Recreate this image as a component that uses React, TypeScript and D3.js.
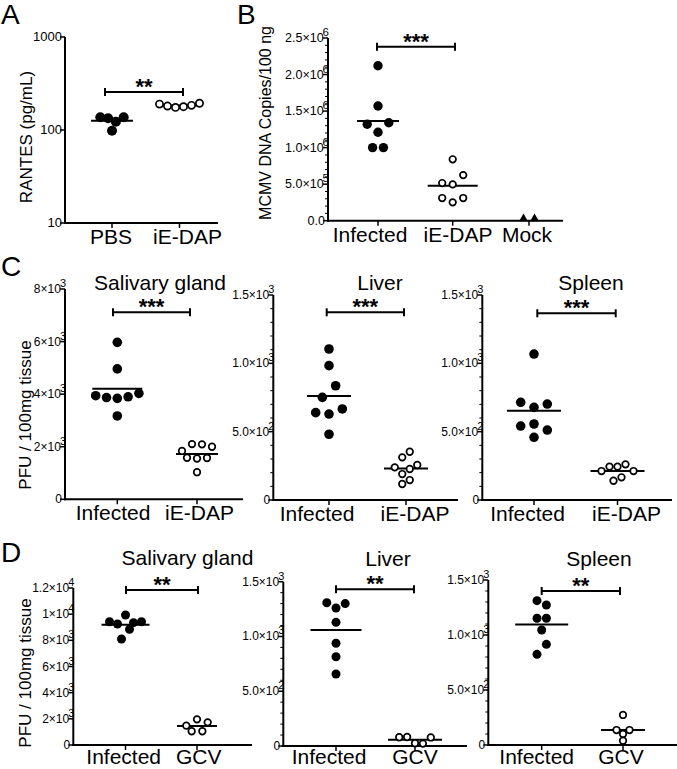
import React from "react";
import * as d3 from "d3";

const FONT = "'Liberation Sans', Arial, Helvetica, sans-serif";

// ---------- Panel A ----------
const A_CATS = ["PBS", "iE-DAP"];
const A_PBS = [137, 134, 123, 137, 98];
const A_IEDAP = [190, 181, 175, 178, 184, 194];
const A_TICKS = [10, 100, 1000];
const A_TICK_LABELS = ["10", "100", "1000"];
const A_SIG = "**";
const A_YLABEL = "RANTES (pg/mL)";

// ---------- Panel B ----------
const B_CATS = ["Infected", "iE-DAP", "Mock"];
const B_INF = [2.12e6, 1.57e6, 1.32e6, 1.21e6, 1.34e6, 1.0e6, 1.0e6];
const B_IEDAP = [0.84e6, 0.515e6, 0.497e6, 0.624e6, 0.31e6, 0.251e6, 0.31e6];
const B_MOCK = [0, 0];
const B_TICKS = [0, 5e5, 1e6, 1.5e6, 2e6, 2.5e6];
const B_TICK_LABELS = ["0.0", "5.0×10^5", "1.0×10^6", "1.5×10^6", "2.0×10^6", "2.5×10^6"];
const B_SIG = "***";
const B_YLABEL = "MCMV DNA Copies/100 ng";

// ---------- Panel C ----------
const C_CATS = ["Infected", "iE-DAP"];
const C_TITLES = ["Salivary gland", "Liver", "Spleen"];
const C_SAL_INF = [5970, 4960, 3940, 3870, 3840, 3900, 4030, 3170];
const C_SAL_IEDAP = [1840, 2100, 2090, 2000, 1580, 1550, 1570, 1030];
const C_LIV_INF = [1105, 983, 751, 836, 639, 629, 666, 481];
const C_LIV_IEDAP = [312, 353, 239, 190, 227, 256, 117, 146];
const C_SPL_INF = [1068, 715, 678, 702, 541, 556, 512, 459];
const C_SPL_IEDAP = [212, 244, 244, 261, 212, 141, 166];
const C_SAL_TICKS = [0, 2000, 4000, 6000, 8000];
const C_SAL_TICK_LABELS = ["0", "2×10^3", "4×10^3", "6×10^3", "8×10^3"];
const C_SIG = ["***", "***", "***"];

// ---------- Panel D ----------
const D_CATS = ["Infected", "GCV"];
const D_TITLES = ["Salivary gland", "Liver", "Spleen"];
const D_SAL_INF = [9420, 9250, 9940, 9350, 9420, 8100, 8840];
const D_SAL_GCV = [1480, 1960, 1730, 1050, 1050];
const D_LIV_INF = [1308, 1260, 1300, 1129, 938, 815, 657];
const D_LIV_GCV = [80, 82, 25, 22, 78];
const D_SPL_INF = [1312, 1273, 1152, 1152, 1045, 824, 915];
const D_SPL_GCV = [273, 136, 100, 136, 39];
const D_SAL_TICKS = [0, 2000, 4000, 6000, 8000, 10000, 12000];
const D_SAL_TICK_LABELS = ["0", "2×10^3", "4×10^3", "6×10^3", "8×10^3", "1×10^4", "1.2×10^4"];
const D_SIG = ["**", "**", "**"];

// shared PFU axis
const PFU_TICKS = [0, 500, 1000, 1500];
const PFU_TICK_LABELS = ["0", "5.0×10^2", "1.0×10^3", "1.5×10^3"];
const PFU_YLABEL = "PFU / 100mg tissue";

type Kind = "filled" | "open" | "tri";
interface GroupSpec {
  label: string;
  values: number[];
  kind: Kind;
  center: number;
  labelX: number;
  spacing: number;
  meanHalf: number;
  r: number;
}
interface PanelSpec {
  id: string;
  scale: "log" | "linear";
  domain: [number, number];
  axisX: number;
  xEnd: number;
  yTop: number;
  yBot: number;
  ticks: number[];
  tickLabels: string[];
  minor: number;
  tickFont: number;
  groups: GroupSpec[];
  T: number;
  labelDy: number;
  sig: string;
  bracket: [number, number, number];
  title?: string;
  titleX?: number;
  titleY?: number;
  yLabel: string;
  yLabelX: number;
  yLabelY: number;
  yLabelSize: number;
}

function layoutRows(values: number[], y: (v: number) => number, T: number, S: number) {
  const items = values.map((v, i) => ({ i, v, y: y(v), dx: 0 }));
  const sorted = [...items].sort((a, b) => a.y - b.y || a.i - b.i);
  const clusters: { start: number; items: typeof items }[] = [];
  let cur: { start: number; items: typeof items } | null = null;
  for (const it of sorted) {
    if (!cur || it.y - cur.start > T) {
      cur = { start: it.y, items: [] };
      clusters.push(cur);
    }
    cur.items.push(it);
  }
  for (const c of clusters) {
    const ord = [...c.items].sort((a, b) => a.i - b.i);
    const n = ord.length;
    ord.forEach((it, k) => {
      it.dx = (k - (n - 1) / 2) * S;
    });
  }
  return items;
}

function TickLabel({ x, y, label, size }: { x: number; y: number; label: string; size: number }) {
  const [base, exp] = label.split("^");
  if (!exp) {
    return (
      <text x={x - 3} y={y + 4} textAnchor="end" fontSize={size}>
        {base}
      </text>
    );
  }
  return (
    <text x={x + 1} y={y + 4} textAnchor="end" fontSize={size}>
      {base}
      <tspan dx={-1} dy={-6} fontSize={size - 1}>
        {exp}
      </tspan>
    </text>
  );
}

function Panel({ p }: { p: PanelSpec }) {
  const y =
    p.scale === "log"
      ? d3.scaleLog().domain(p.domain).range([p.yBot, p.yTop])
      : d3.scaleLinear().domain(p.domain).range([p.yBot, p.yTop]);
  const minorTicks: number[] = [];
  if (p.minor > 0) {
    for (let i = 0; i < p.ticks.length - 1; i++) {
      const a = p.ticks[i];
      const b = p.ticks[i + 1];
      for (let k = 1; k < p.minor; k++) minorTicks.push(a + ((b - a) * k) / p.minor);
    }
  }
  const [bx1, bx2, by] = p.bracket;
  const tri = d3.symbol(d3.symbolTriangle, 34)() || "";
  return (
    <g>
      <line x1={p.axisX} x2={p.axisX} y1={p.yTop} y2={p.yBot + 1} stroke="#000" strokeWidth={2} />
      <line x1={p.axisX - 1} x2={p.xEnd} y1={p.yBot} y2={p.yBot} stroke="#000" strokeWidth={2} />
      {p.ticks.map((t, i) => (
        <g key={"t" + i}>
          <line x1={p.axisX - 5} x2={p.axisX} y1={y(t)} y2={y(t)} stroke="#000" strokeWidth={1.5} />
          <TickLabel x={p.axisX} y={y(t)} label={p.tickLabels[i]} size={p.tickFont} />
        </g>
      ))}
      {minorTicks.map((t, i) => (
        <line key={"m" + i} x1={p.axisX - 3} x2={p.axisX} y1={y(t)} y2={y(t)} stroke="#000" strokeWidth={1} />
      ))}
      {p.groups.map((g, gi) => (
        <g key={"x" + gi}>
          <line x1={g.center} x2={g.center} y1={p.yBot} y2={p.yBot + 5} stroke="#000" strokeWidth={1.5} />
          <text x={g.labelX} y={p.yBot + p.labelDy} textAnchor="middle" fontSize={21}>
            {g.label}
          </text>
        </g>
      ))}
      {p.groups.map((g, gi) =>
        g.meanHalf > 0 ? (
          <line
            key={"mean" + gi}
            x1={g.center - g.meanHalf}
            x2={g.center + g.meanHalf}
            y1={y(d3.mean(g.values) as number)}
            y2={y(d3.mean(g.values) as number)}
            stroke="#000"
            strokeWidth={2}
          />
        ) : null
      )}
      {p.groups.map((g, gi) => {
        const pts = layoutRows(g.values, (v) => y(v), p.T, g.spacing);
        return (
          <g key={"pts" + gi}>
            {pts.map((pt, k) =>
              g.kind === "tri" ? (
                <path key={k} d={tri} transform={`translate(${g.center + pt.dx},${pt.y - 2})`} fill="#000" />
              ) : g.kind === "filled" ? (
                <circle key={k} cx={g.center + pt.dx} cy={pt.y} r={g.r} fill="#000" />
              ) : (
                <circle
                  key={k}
                  cx={g.center + pt.dx}
                  cy={pt.y}
                  r={g.r}
                  fill="#fff"
                  stroke="#000"
                  strokeWidth={1.7}
                />
              )
            )}
          </g>
        );
      })}
      <line x1={bx1} x2={bx2} y1={by} y2={by} stroke="#000" strokeWidth={2} />
      <line x1={bx1} x2={bx1} y1={by - 4} y2={by + 4} stroke="#000" strokeWidth={2} />
      <line x1={bx2} x2={bx2} y1={by - 4} y2={by + 4} stroke="#000" strokeWidth={2} />
      <text x={(bx1 + bx2) / 2} y={by + 2} textAnchor="middle" fontSize={22} fontWeight="bold">
        {p.sig}
      </text>
      {p.title ? (
        <text x={p.titleX} y={p.titleY} textAnchor="middle" fontSize={21}>
          {p.title}
        </text>
      ) : null}
      {p.yLabel ? (
        <text
          transform={`translate(${p.yLabelX},${p.yLabelY}) rotate(-90)`}
          textAnchor="middle"
          fontSize={p.yLabelSize}
        >
          {p.yLabel}
        </text>
      ) : null}
    </g>
  );
}

const panels: PanelSpec[] = [
  {
    id: "A",
    scale: "log",
    domain: [10, 1000],
    axisX: 65,
    xEnd: 218,
    yTop: 37,
    yBot: 223,
    ticks: A_TICKS,
    tickLabels: A_TICK_LABELS,
    minor: 0,
    tickFont: 13,
    T: 12,
    labelDy: 21,
    groups: [
      { label: A_CATS[0], values: A_PBS, kind: "filled", center: 112, labelX: 111, spacing: 7.8, meanHalf: 21, r: 5 },
      { label: A_CATS[1], values: A_IEDAP, kind: "open", center: 179.5, labelX: 187.5, spacing: 8, meanHalf: 21, r: 3.6 },
    ],
    sig: A_SIG,
    bracket: [105, 183, 92],
    yLabel: A_YLABEL,
    yLabelX: 32,
    yLabelY: 137,
    yLabelSize: 17,
  },
  {
    id: "B",
    scale: "linear",
    domain: [0, 2.5e6],
    axisX: 328,
    xEnd: 563,
    yTop: 38,
    yBot: 220.7,
    ticks: B_TICKS,
    tickLabels: B_TICK_LABELS,
    minor: 5,
    tickFont: 12.5,
    T: 12,
    labelDy: 21,
    groups: [
      { label: B_CATS[0], values: B_INF, kind: "filled", center: 378, labelX: 370, spacing: 10.8, meanHalf: 21, r: 4.7 },
      { label: B_CATS[1], values: B_IEDAP, kind: "open", center: 452.7, labelX: 458, spacing: 10.5, meanHalf: 25, r: 3.3 },
      { label: B_CATS[2], values: B_MOCK, kind: "tri", center: 529, labelX: 527, spacing: 11, meanHalf: 0, r: 3 },
    ],
    sig: B_SIG,
    bracket: [377, 455, 46.7],
    yLabel: B_YLABEL,
    yLabelX: 270.5,
    yLabelY: 123,
    yLabelSize: 16,
  },
  {
    id: "Csal",
    scale: "linear",
    domain: [0, 8000],
    axisX: 65,
    xEnd: 243,
    yTop: 289,
    yBot: 499.3,
    ticks: C_SAL_TICKS,
    tickLabels: C_SAL_TICK_LABELS,
    minor: 0,
    tickFont: 12,
    T: 12,
    labelDy: 21,
    groups: [
      { label: C_CATS[0], values: C_SAL_INF, kind: "filled", center: 117.3, labelX: 113, spacing: 10.8, meanHalf: 25, r: 4.8 },
      { label: C_CATS[1], values: C_SAL_IEDAP, kind: "open", center: 197, labelX: 199.5, spacing: 10, meanHalf: 21, r: 3.3 },
    ],
    sig: C_SIG[0],
    bracket: [113, 190, 312.3],
    title: C_TITLES[0],
    titleX: 160,
    titleY: 290,
    yLabel: PFU_YLABEL,
    yLabelX: 30.5,
    yLabelY: 415,
    yLabelSize: 17,
  },
  {
    id: "Cliv",
    scale: "linear",
    domain: [0, 1500],
    axisX: 273.3,
    xEnd: 458,
    yTop: 295,
    yBot: 500,
    ticks: PFU_TICKS,
    tickLabels: PFU_TICK_LABELS,
    minor: 5,
    tickFont: 12,
    T: 12,
    labelDy: 21,
    groups: [
      { label: C_CATS[0], values: C_LIV_INF, kind: "filled", center: 329, labelX: 317, spacing: 13.3, meanHalf: 22, r: 4.8 },
      { label: C_CATS[1], values: C_LIV_IEDAP, kind: "open", center: 406, labelX: 415, spacing: 7.5, meanHalf: 22, r: 3.3 },
    ],
    sig: C_SIG[1],
    bracket: [326.7, 404, 312.3],
    title: C_TITLES[1],
    titleX: 380,
    titleY: 290,
    yLabel: "",
    yLabelX: 0,
    yLabelY: 0,
    yLabelSize: 17,
  },
  {
    id: "Cspl",
    scale: "linear",
    domain: [0, 1500],
    axisX: 482.3,
    xEnd: 672,
    yTop: 295,
    yBot: 500,
    ticks: PFU_TICKS,
    tickLabels: PFU_TICK_LABELS,
    minor: 5,
    tickFont: 12,
    T: 12,
    labelDy: 21,
    groups: [
      { label: C_CATS[0], values: C_SPL_INF, kind: "filled", center: 534, labelX: 527.5, spacing: 13.3, meanHalf: 27, r: 4.8 },
      { label: C_CATS[1], values: C_SPL_IEDAP, kind: "open", center: 617.5, labelX: 626.5, spacing: 8, meanHalf: 27, r: 3.3 },
    ],
    sig: C_SIG[2],
    bracket: [537.3, 615.7, 313.3],
    title: C_TITLES[2],
    titleX: 591,
    titleY: 290,
    yLabel: "",
    yLabelX: 0,
    yLabelY: 0,
    yLabelSize: 17,
  },
  {
    id: "Dsal",
    scale: "linear",
    domain: [0, 12000],
    axisX: 73.3,
    xEnd: 252,
    yTop: 588,
    yBot: 745,
    ticks: D_SAL_TICKS,
    tickLabels: D_SAL_TICK_LABELS,
    minor: 0,
    tickFont: 12,
    T: 11,
    labelDy: 19,
    groups: [
      { label: D_CATS[0], values: D_SAL_INF, kind: "filled", center: 125.5, labelX: 123.7, spacing: 8, meanHalf: 24, r: 4.5 },
      { label: D_CATS[1], values: D_SAL_GCV, kind: "open", center: 197, labelX: 198.7, spacing: 10.7, meanHalf: 20, r: 3.3 },
    ],
    sig: D_SIG[0],
    bracket: [126, 198, 590],
    title: D_TITLES[0],
    titleX: 187.5,
    titleY: 565,
    yLabel: PFU_YLABEL,
    yLabelX: 30.5,
    yLabelY: 673,
    yLabelSize: 17,
  },
  {
    id: "Dliv",
    scale: "linear",
    domain: [0, 1500],
    axisX: 283.3,
    xEnd: 467,
    yTop: 581.7,
    yBot: 746,
    ticks: PFU_TICKS,
    tickLabels: PFU_TICK_LABELS,
    minor: 5,
    tickFont: 12,
    T: 12,
    labelDy: 18,
    groups: [
      { label: D_CATS[0], values: D_LIV_INF, kind: "filled", center: 336, labelX: 329, spacing: 9.2, meanHalf: 25.5, r: 4.5 },
      { label: D_CATS[1], values: D_LIV_GCV, kind: "open", center: 415, labelX: 415, spacing: 7.9, meanHalf: 27, r: 3.3 },
    ],
    sig: D_SIG[1],
    bracket: [336, 414, 589.3],
    title: D_TITLES[1],
    titleX: 388,
    titleY: 566,
    yLabel: "",
    yLabelX: 0,
    yLabelY: 0,
    yLabelSize: 17,
  },
  {
    id: "Dspl",
    scale: "linear",
    domain: [0, 1500],
    axisX: 488.3,
    xEnd: 677,
    yTop: 580,
    yBot: 745,
    ticks: PFU_TICKS,
    tickLabels: PFU_TICK_LABELS,
    minor: 5,
    tickFont: 12,
    T: 10.5,
    labelDy: 19,
    groups: [
      { label: D_CATS[0], values: D_SPL_INF, kind: "filled", center: 541.7, labelX: 536.7, spacing: 9.4, meanHalf: 26.5, r: 4.5 },
      { label: D_CATS[1], values: D_SPL_GCV, kind: "open", center: 623, labelX: 621, spacing: 6.5, meanHalf: 22, r: 3.3 },
    ],
    sig: D_SIG[2],
    bracket: [541.7, 620, 591],
    title: D_TITLES[2],
    titleX: 599,
    titleY: 566,
    yLabel: "",
    yLabelX: 0,
    yLabelY: 0,
    yLabelSize: 17,
  },
];

const LETTERS = [
  { t: "A", x: 1, y: 24 },
  { t: "B", x: 237, y: 24 },
  { t: "C", x: 1, y: 276 },
  { t: "D", x: 1, y: 562 },
];

export default function App() {
  return (
    <svg
      width={677}
      height={769}
      style={{ position: "absolute", left: 0, top: 0, background: "#fff" }}
      fontFamily={FONT}
    >
      <rect x={0} y={0} width={677} height={769} fill="#fff" />
      {panels.map((p) => (
        <Panel key={p.id} p={p} />
      ))}
      {LETTERS.map((l) => (
        <text key={l.t} x={l.x} y={l.y} fontSize={28}>
          {l.t}
        </text>
      ))}
    </svg>
  );
}
